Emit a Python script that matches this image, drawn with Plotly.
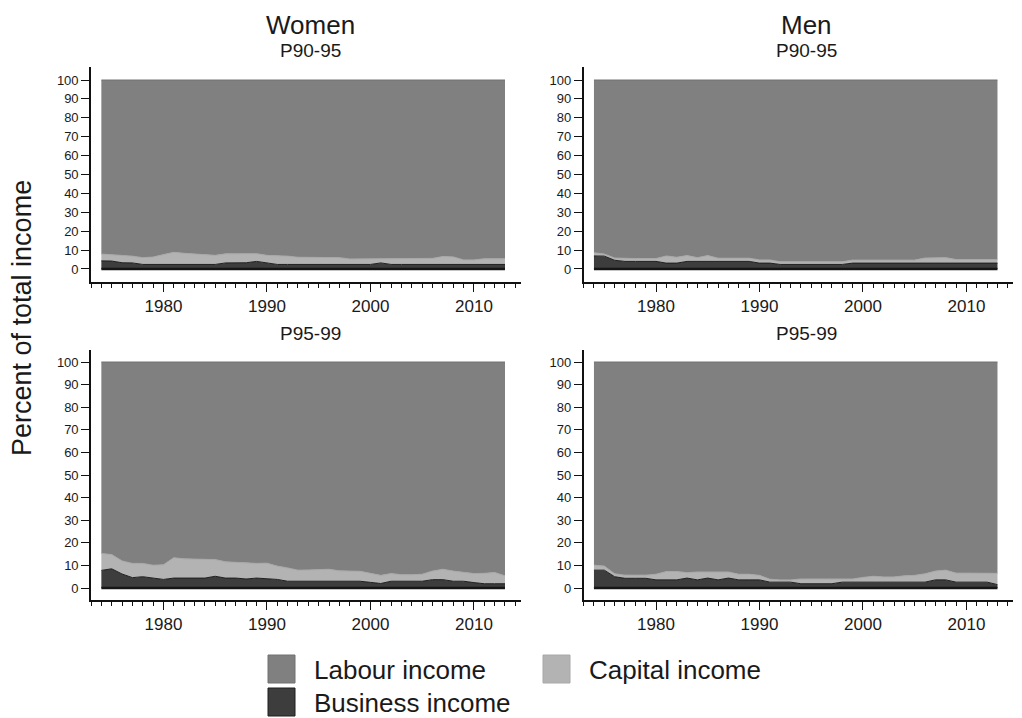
import plotly.graph_objects as go

years = list(range(1974, 2014))

series_names = ["Business income", "Capital income", "Labour income"]
series_colors = ["#3d3d3d", "#b3b3b3", "#808080"]
line_colors = ["#1e1e1e", "#a8a8a8", "#707070"]

panel_titles = ["P90-95", "P90-95", "P95-99", "P95-99"]
column_titles = ["Women", "Men"]
y_title = "Percent of total income"
y_ticks = [0, 10, 20, 30, 40, 50, 60, 70, 80, 90, 100]
x_ticks = [1980, 1990, 2000, 2010]

# Women P90-95
women_p9095_business = [4.3, 4.2, 3.3, 3.2, 2.4, 2.4, 2.4, 2.4, 2.4, 2.4, 2.4, 2.4, 3.2, 3.2, 3.3, 4.0, 3.2, 2.4, 2.4, 2.4,
                        2.4, 2.4, 2.4, 2.4, 2.4, 2.4, 2.4, 3.2, 2.4, 2.4, 2.4, 2.4, 2.4, 2.4, 2.4, 2.4, 2.4, 2.4, 2.4, 2.4]
women_p9095_capital = [3.6, 3.4, 3.8, 3.6, 3.6, 3.9, 5.2, 6.4, 5.9, 5.5, 5.4, 4.8, 4.8, 4.9, 4.8, 4.1, 4.0, 4.7, 4.4, 3.8,
                       3.8, 3.8, 3.8, 3.6, 2.9, 2.9, 2.9, 2.1, 2.9, 2.9, 2.9, 2.9, 3.2, 4.2, 4.0, 2.4, 2.4, 3.0, 3.1, 3.0]
women_p9095_labour = [92.1, 92.4, 92.9, 93.2, 94.0, 93.7, 92.4, 91.2, 91.7, 92.1, 92.2, 92.8, 92.0, 91.9, 91.9, 91.9, 92.8, 92.9, 93.2, 93.8,
                      93.8, 93.8, 93.8, 94.0, 94.7, 94.7, 94.7, 94.7, 94.7, 94.7, 94.7, 94.7, 94.4, 93.4, 93.6, 95.2, 95.2, 94.6, 94.5, 94.6]

# Men P90-95
men_p9095_business = [6.9, 6.8, 4.6, 4.0, 4.0, 4.0, 4.0, 3.1, 3.1, 4.0, 4.0, 4.0, 4.0, 4.0, 4.0, 4.0, 3.1, 3.1, 2.4, 2.4,
                      2.4, 2.4, 2.4, 2.4, 2.4, 3.1, 3.1, 3.1, 3.1, 3.1, 3.1, 3.1, 3.1, 3.1, 3.1, 3.1, 3.1, 3.1, 3.1, 3.1]
men_p9095_capital = [1.7, 1.1, 1.2, 1.5, 1.5, 1.5, 1.5, 3.8, 3.1, 3.1, 2.0, 3.1, 1.7, 1.7, 1.7, 1.7, 1.7, 1.7, 1.4, 1.4,
                     1.4, 1.4, 1.4, 1.4, 1.4, 1.6, 1.6, 1.6, 1.6, 1.6, 1.6, 1.6, 2.7, 3.0, 2.9, 1.9, 1.9, 1.9, 1.9, 1.9]
men_p9095_labour = [91.4, 92.1, 94.2, 94.5, 94.5, 94.5, 94.5, 93.1, 93.8, 92.9, 94.0, 92.9, 94.3, 94.3, 94.3, 94.3, 95.2, 95.2, 96.2, 96.2,
                    96.2, 96.2, 96.2, 96.2, 96.2, 95.3, 95.3, 95.3, 95.3, 95.3, 95.3, 95.3, 94.2, 93.9, 94.0, 95.0, 95.0, 95.0, 95.0, 95.0]

# Women P95-99
women_p9599_business = [7.8, 8.5, 6.2, 4.6, 5.0, 4.5, 3.8, 4.4, 4.4, 4.4, 4.4, 5.2, 4.4, 4.4, 4.0, 4.4, 4.2, 3.8, 3.0, 3.0,
                        3.0, 3.0, 3.0, 3.0, 3.0, 3.0, 2.5, 2.0, 3.0, 3.0, 3.0, 3.0, 3.7, 3.7, 3.0, 3.0, 2.4, 1.9, 1.9, 1.9]
women_p9599_capital = [7.5, 6.3, 5.8, 6.3, 5.9, 5.6, 6.5, 9.0, 8.5, 8.5, 8.5, 7.4, 7.2, 6.9, 7.1, 6.5, 6.8, 5.9, 5.9, 4.9,
                       5.0, 5.3, 5.3, 4.6, 4.6, 4.4, 4.0, 3.6, 3.4, 2.9, 2.9, 3.1, 3.8, 4.6, 4.5, 3.9, 4.0, 4.6, 5.0, 3.5]
women_p9599_labour = [84.7, 85.2, 88.0, 89.1, 89.1, 89.9, 89.7, 86.6, 87.1, 87.1, 87.1, 87.4, 88.4, 88.7, 88.9, 89.1, 89.0, 90.3, 91.1, 92.1,
                      92.0, 91.7, 91.7, 92.4, 92.4, 92.6, 93.5, 94.4, 93.6, 94.1, 94.1, 93.9, 92.5, 91.7, 92.5, 93.1, 93.6, 93.5, 93.1, 94.6]

# Men P95-99
men_p9599_business = [7.9, 7.9, 5.0, 4.3, 4.3, 4.3, 3.6, 3.6, 3.6, 4.4, 3.6, 4.4, 3.6, 4.4, 3.6, 3.6, 3.6, 2.6, 2.6, 2.6,
                      1.9, 1.9, 1.9, 1.9, 2.6, 2.6, 2.6, 2.6, 2.6, 2.6, 2.6, 2.6, 2.6, 3.6, 3.6, 2.6, 2.6, 2.6, 2.6, 1.5]
men_p9599_capital = [2.2, 1.8, 1.3, 1.4, 1.4, 1.4, 2.5, 3.7, 3.7, 2.4, 3.5, 2.7, 3.5, 2.7, 2.5, 2.5, 2.0, 1.3, 1.0, 1.0,
                     2.1, 2.1, 2.1, 2.1, 1.4, 1.4, 2.1, 2.6, 2.3, 2.3, 2.8, 3.0, 3.7, 3.9, 4.3, 4.0, 4.0, 4.0, 4.0, 5.0]
men_p9599_labour = [89.9, 90.3, 93.7, 94.3, 94.3, 94.3, 93.9, 92.7, 92.7, 93.2, 92.9, 92.9, 92.9, 92.9, 93.9, 93.9, 94.4, 96.1, 96.4, 96.4,
                    96.0, 96.0, 96.0, 96.0, 96.0, 96.0, 95.3, 94.8, 95.1, 95.1, 94.6, 94.4, 93.7, 92.5, 92.1, 93.4, 93.4, 93.4, 93.4, 93.5]

panels = [
    (women_p9095_business, women_p9095_capital, women_p9095_labour),
    (men_p9095_business, men_p9095_capital, men_p9095_labour),
    (women_p9599_business, women_p9599_capital, women_p9599_labour),
    (men_p9599_business, men_p9599_capital, men_p9599_labour),
]

# The page body adds an 8px margin; lay out in window pixels and shift.
OFF = 8
W, H = 1022 - OFF, 718 - OFF


def fx(p):
    return (p - OFF) / W


def fy(p):
    return 1 - (p - OFF) / H


x_domains = [[fx(91), fx(520.5)], [fx(583.6), fx(1013)]]
y_domains = [[fy(282.2), fy(66.8)], [fy(600), fy(349.6)]]
y_ranges = [[-7, 107], [-5.3, 105.5]]
x_range = [1973, 2014.5]
title_x = [310, 806]

fig = go.Figure()
layout = dict(width=W, height=H, margin=dict(l=0, r=0, t=0, b=0),
              paper_bgcolor="white", plot_bgcolor="white", showlegend=False,
              font=dict(family="Liberation Sans, Arial, sans-serif", color="#1a1a1a"))

annotations = []
shapes = []
for p, data in enumerate(panels):
    row, col = divmod(p, 2)
    n = p + 1
    xa = "x" if n == 1 else f"x{n}"
    ya = "y" if n == 1 else f"y{n}"
    for k in range(3):
        fig.add_trace(go.Scatter(
            x=years, y=data[k], mode="lines", stackgroup=f"s{n}",
            name=series_names[k], fillcolor=series_colors[k],
            line=dict(color=line_colors[k], width=1),
            xaxis=xa, yaxis=ya, hoverinfo="x+y+name"))
    # dark base edge of the business-income area
    shapes.append(dict(type="line", xref=xa, yref=ya, x0=years[0], x1=years[-1], y0=0, y1=0,
                       line=dict(color="#161616", width=2.5), layer="above"))
    xkey = "xaxis" if n == 1 else f"xaxis{n}"
    ykey = "yaxis" if n == 1 else f"yaxis{n}"
    layout[xkey] = dict(domain=x_domains[col], anchor=ya, range=x_range,
                        tickvals=x_ticks, ticks="outside", ticklen=8, tickwidth=1.3,
                        tickcolor="#111", showline=True, linecolor="#111", linewidth=1.6,
                        showgrid=False, zeroline=False,
                        tickfont=dict(size=17, color="#1a1a1a"),
                        minor=dict(dtick=1, tick0=1973, ticks="outside", ticklen=4,
                                   tickwidth=1, tickcolor="#111", showgrid=False))
    layout[ykey] = dict(domain=y_domains[row], anchor=xa, range=y_ranges[row],
                        tickvals=y_ticks, ticks="outside", ticklen=8, tickwidth=1.3,
                        tickcolor="#111", showline=True, linecolor="#111", linewidth=1.6,
                        showgrid=False, zeroline=False,
                        tickfont=dict(size=13, color="#1a1a1a"))
    ty = 50 if row == 0 else 333
    annotations.append(dict(text=panel_titles[p], x=fx(title_x[col]), y=fy(ty), xref="paper", yref="paper",
                            showarrow=False, font=dict(size=19), xanchor="center", yanchor="middle"))
    if row == 0:
        annotations.append(dict(text=column_titles[col], x=fx(title_x[col]), y=fy(9), xref="paper", yref="paper",
                                showarrow=False, font=dict(size=26), xanchor="center", yanchor="top",
                                borderpad=0))

annotations.append(dict(text=y_title, x=fx(22), y=fy(318), xref="paper", yref="paper",
                        showarrow=False, textangle=-90, font=dict(size=27),
                        xanchor="center", yanchor="middle"))

# Legend (manual, to mimic large square swatches)
legend_items = [("Labour income", 2, 268, 655), ("Business income", 0, 268, 688), ("Capital income", 1, 543, 655)]
for label, k, lx, ly in legend_items:
    shapes.append(dict(type="rect", xref="paper", yref="paper",
                       x0=fx(lx), x1=fx(lx + 27), y0=fy(ly + 28), y1=fy(ly),
                       fillcolor=series_colors[k], line=dict(color=line_colors[k], width=1)))
    annotations.append(dict(text=label, x=fx(lx + 44), y=fy(ly + 15), xref="paper", yref="paper",
                            showarrow=False, font=dict(size=26), xanchor="left", yanchor="middle"))

layout["annotations"] = annotations
layout["shapes"] = shapes
fig.update_layout(**layout)
fig.write_html("out.html")
